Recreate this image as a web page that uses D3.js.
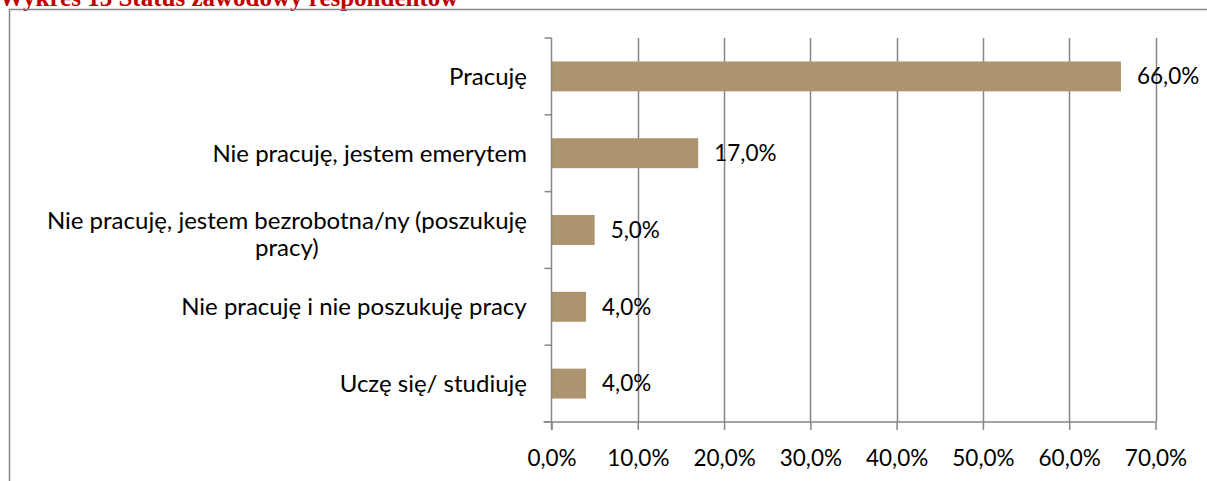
<!DOCTYPE html>
<html>
<head>
<meta charset="utf-8">
<script src="https://cdn.jsdelivr.net/npm/d3@7/dist/d3.min.js"></script>
<style>
  html, body { margin: 0; padding: 0; background: #fff; }
  svg { display: block; }
</style>
</head>
<body>
<svg id="chart" width="1207" height="481"></svg>
<script>
// Survey results: respondents' employment status (share of answers, %)
const categories = [
  ["Pracuję"],
  ["Nie pracuję, jestem emerytem"],
  ["Nie pracuję, jestem bezrobotna/ny (poszukuję", "pracy)"],
  ["Nie pracuję i nie poszukuję pracy"],
  ["Uczę się/ studiuję"]
];
const values = [66.0, 17.0, 5.0, 4.0, 4.0];
const tickValues = [0, 10, 20, 30, 40, 50, 60, 70];
const title = "Wykres 13 Status zawodowy respondentów";

const svg = d3.select("#chart");
const font = "Lato, 'Open Sans', sans-serif";

// Chart title above the frame
svg.append("text")
  .attr("x", -1).attr("y", 5.5)
  .attr("font-family", "'Liberation Serif', 'DejaVu Serif', serif")
  .attr("font-weight", "bold")
  .attr("font-size", 25)
  .attr("fill", "#C00000")
  .text(title);

// Chart area frame
svg.append("path")
  .attr("d", "M9.5,481 V9.5 H1208")
  .attr("fill", "none")
  .attr("stroke", "#868686")
  .attr("stroke-width", 1.5);

const plot = { left: 551.5, right: 1155.5, top: 38, bottom: 422 };

const x = d3.scaleLinear().domain([0, 70]).range([plot.left, plot.right]);
const y = d3.scaleBand()
  .domain(d3.range(categories.length))
  .range([plot.top, plot.bottom])
  .paddingInner(0.61).paddingOuter(0.305);
const yEdges = d3.scaleLinear().domain([0, categories.length]).range([plot.top, plot.bottom]);

// Vertical gridlines
svg.append("g")
  .selectAll("line")
  .data(tickValues.slice(1))
  .join("line")
  .attr("x1", d => Math.round(x(d)) + 0.5).attr("x2", d => Math.round(x(d)) + 0.5)
  .attr("y1", plot.top).attr("y2", plot.bottom)
  .attr("stroke", "#868686").attr("stroke-width", 1.5);

// Bars
svg.append("g")
  .selectAll("rect")
  .data(values)
  .join("rect")
  .attr("x", x(0))
  .attr("y", (d, i) => y(i))
  .attr("width", d => x(d) - x(0))
  .attr("height", y.bandwidth())
  .attr("fill", "#AC946E");

// Value labels
svg.append("g")
  .selectAll("text")
  .data(values)
  .join("text")
  .attr("x", d => x(d) + 16)
  .attr("y", (d, i) => y(i) + y.bandwidth() / 2)
  .attr("dy", "0.35em")
  .attr("font-family", font)
  .attr("font-size", 22.5)
  .attr("fill", "#000")
  .text(d => d.toFixed(1).replace(".", ",") + "%");

// Vertical category axis with ticks at band boundaries
const yAxis = svg.append("g");
yAxis.append("line")
  .attr("x1", plot.left).attr("x2", plot.left)
  .attr("y1", plot.top).attr("y2", plot.bottom + 8)
  .attr("stroke", "#868686").attr("stroke-width", 1.5);
yAxis.selectAll("line.tick")
  .data(d3.range(categories.length + 1))
  .join("line")
  .attr("class", "tick")
  .attr("x1", plot.left - 7).attr("x2", plot.left)
  .attr("y1", d => yEdges(d)).attr("y2", d => yEdges(d))
  .attr("stroke", "#868686").attr("stroke-width", 1.5);

// Category labels (right-aligned block, lines centred; wrapped blocks sit a little lower)
const lineH = 27;
const catG = svg.append("g");
categories.forEach((lines, i) => {
  const cy = y(i) + y.bandwidth() / 2 + (lines.length > 1 ? 4 : 0);
  const t = catG.append("text")
    .attr("font-family", font)
    .attr("font-size", 24)
    .attr("fill", "#000")
    .attr("text-anchor", "middle");
  lines.forEach((ln, j) => {
    t.append("tspan")
      .attr("x", 0)
      .attr("y", cy + (j - (lines.length - 1) / 2) * lineH)
      .attr("dy", "0.35em")
      .text(ln);
  });
  const w = t.node().getBBox().width;
  t.attr("transform", `translate(${527 - w / 2},0)`);
});

// Horizontal value axis
const xAxis = d3.axisBottom(x)
  .tickValues(tickValues)
  .tickSize(8)
  .tickFormat(d => d3.format(".1f")(d).replace(".", ",") + "%");
const gx = svg.append("g")
  .attr("transform", `translate(0,${plot.bottom})`)
  .call(xAxis);
gx.select(".domain").remove();
gx.append("line")
  .attr("x1", plot.left - 8).attr("x2", plot.right)
  .attr("stroke", "#868686").attr("stroke-width", 1.5);
gx.selectAll(".tick line").attr("stroke", "#868686").attr("stroke-width", 1.5);
gx.selectAll(".tick text")
  .attr("y", 36)
  .attr("dy", "0.35em")
  .attr("font-family", font)
  .attr("font-size", 22.5)
  .attr("fill", "#000");
</script>
</body>
</html>
